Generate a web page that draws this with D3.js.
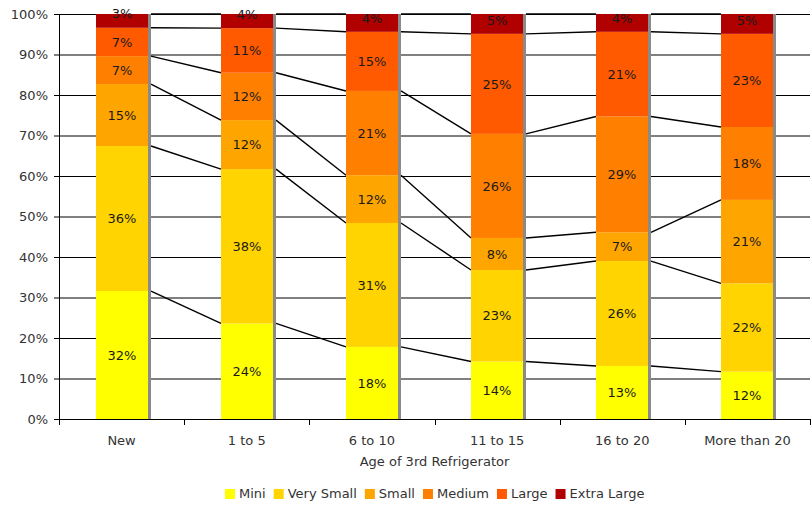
<!DOCTYPE html>
<html>
<head>
<meta charset="utf-8">
<script src="https://cdn.jsdelivr.net/npm/d3@7"></script>
<style>
  html, body { margin: 0; padding: 0; background: #fff; }
  svg { display: block; font-family: "DejaVu Sans", Verdana, sans-serif; }
</style>
</head>
<body>
<svg id="chart" width="812" height="506"></svg>
<script>
const categories = ["New", "1 to 5", "6 to 10", "11 to 15", "16 to 20", "More than 20"];
const seriesNames = ["Mini", "Very Small", "Small", "Medium", "Large", "Extra Large"];
const mini       = [31.6, 23.6, 17.8, 14.2, 13.1, 11.7];
const verySmall  = [35.8, 38.1, 30.6, 22.6, 25.9, 21.8];
const small      = [15.3, 12.1, 11.8, 7.9, 7.1, 20.6];
const medium     = [6.9, 11.7, 20.8, 25.7, 28.6, 18.0];
const large      = [7.0, 11.0, 14.6, 24.7, 20.9, 23.0];
const extraLarge = [3.4, 3.5, 4.4, 4.9, 4.4, 4.9];
const yTicks = [0, 10, 20, 30, 40, 50, 60, 70, 80, 90, 100];
const colors = ["#FFFF00", "#FFD400", "#FFA500", "#FF8000", "#FF5A00", "#B00000"];
const xTitle = "Age of 3rd Refrigerator";

(function () {
const seriesValues = [mini, verySmall, small, medium, large, extraLarge];
const rows = categories.map((c, i) => {
  const r = { cat: c };
  seriesNames.forEach((s, k) => { r[s] = seriesValues[k][i]; });
  return r;
});
const stacked = d3.stack().keys(seriesNames)(rows);

const svg = d3.select("#chart");
const pLeft = 59, pRight = 810, pTop = 14, pBottom = 419;
const x = d3.scaleBand().domain(categories).range([pLeft, pRight]).padding(0);
const y = d3.scaleLinear().domain([0, 100]).range([pBottom, pTop]);
const barW = 52;
const shadowW = 3;
const bx = c => Math.round(x(c) + (x.bandwidth() - barW) / 2);

// gridlines
svg.append("g").selectAll("line").data(yTicks.filter(d => d > 0)).join("line")
  .attr("x1", pLeft).attr("x2", pRight)
  .attr("y1", d => y(d) + 0.5).attr("y2", d => y(d) + 0.5)
  .attr("stroke", "#000").attr("stroke-width", 1);

// series lines
const sl = svg.append("g");
stacked.forEach(s => {
  for (let i = 0; i < categories.length - 1; i++) {
    sl.append("line")
      .attr("x1", bx(categories[i]) + barW + shadowW)
      .attr("y1", y(s[i][1]))
      .attr("x2", bx(categories[i + 1]))
      .attr("y2", y(s[i + 1][1]))
      .attr("stroke", "#000").attr("stroke-width", 1.4);
  }
});

// shadows
svg.append("g").selectAll("rect").data(categories).join("rect")
  .attr("x", c => bx(c) + barW)
  .attr("y", pTop)
  .attr("width", shadowW)
  .attr("height", pBottom - pTop)
  .attr("fill", "#8a8a8a");

// bars
const gBars = svg.append("g");
stacked.forEach((s, k) => {
  gBars.selectAll(null).data(s).join("rect")
    .attr("x", d => bx(d.data.cat))
    .attr("y", d => y(d[1]))
    .attr("width", barW)
    .attr("height", d => y(d[0]) - y(d[1]))
    .attr("fill", colors[k]);
});

// labels
const gLab = svg.append("g");
stacked.forEach((s, k) => {
  gLab.selectAll(null).data(s).join("text")
    .attr("x", d => bx(d.data.cat) + barW / 2)
    .attr("y", d => Math.min((y(d[0]) + y(d[1])) / 2, y(d[0]) - 14))
    .attr("dy", "0.36em")
    .attr("text-anchor", "middle")
    .attr("font-size", 13)
    .attr("fill", "#1a1a1a")
    .text(d => Math.round(d[1] - d[0]) + "%");
});

// y axis
const yAxis = svg.append("g").attr("transform", `translate(${pLeft},0)`)
  .call(d3.axisLeft(y).tickValues(yTicks).tickFormat(d => d + "%").tickSize(5).tickPadding(6).tickSizeOuter(0));
yAxis.selectAll("text").attr("font-size", 13).attr("fill", "#333").attr("font-family", "DejaVu Sans, Verdana, sans-serif");
yAxis.selectAll("line, path").attr("stroke", "#000");

// x axis
const xg = svg.append("g");
xg.append("line").attr("x1", pLeft).attr("x2", pRight)
  .attr("y1", pBottom + 0.5).attr("y2", pBottom + 0.5).attr("stroke", "#000");
const bounds = categories.map(c => x(c)).concat([pRight]);
xg.selectAll(".tk").data(bounds).join("line")
  .attr("x1", d => Math.round(d) + 0.5).attr("x2", d => Math.round(d) + 0.5)
  .attr("y1", pBottom).attr("y2", pBottom + 6).attr("stroke", "#000");
xg.selectAll("text").data(categories).join("text")
  .attr("x", c => x(c) + x.bandwidth() / 2)
  .attr("y", 445)
  .attr("text-anchor", "middle")
  .attr("font-size", 13).attr("fill", "#333")
  .text(c => c);

svg.append("text")
  .attr("x", (pLeft + pRight) / 2).attr("y", 466)
  .attr("text-anchor", "middle")
  .attr("font-size", 13).attr("fill", "#333")
  .text(xTitle);

// legend
const leg = svg.append("g");
let cx = 0;
seriesNames.forEach((s, k) => {
  const g = leg.append("g");
  g.append("rect").attr("x", 0).attr("y", -9).attr("width", 10).attr("height", 10).attr("fill", colors[k]);
  const t = g.append("text").attr("x", 14).attr("y", 0).attr("font-size", 13).attr("fill", "#333").text(s);
  const w = 14 + t.node().getComputedTextLength();
  g.attr("transform", `translate(${cx},0)`);
  cx += w + 8;
});
const totalW = cx - 8;
leg.attr("transform", `translate(${Math.round((pLeft + pRight) / 2 - totalW / 2)},498)`);
})();
</script>
</body>
</html>
